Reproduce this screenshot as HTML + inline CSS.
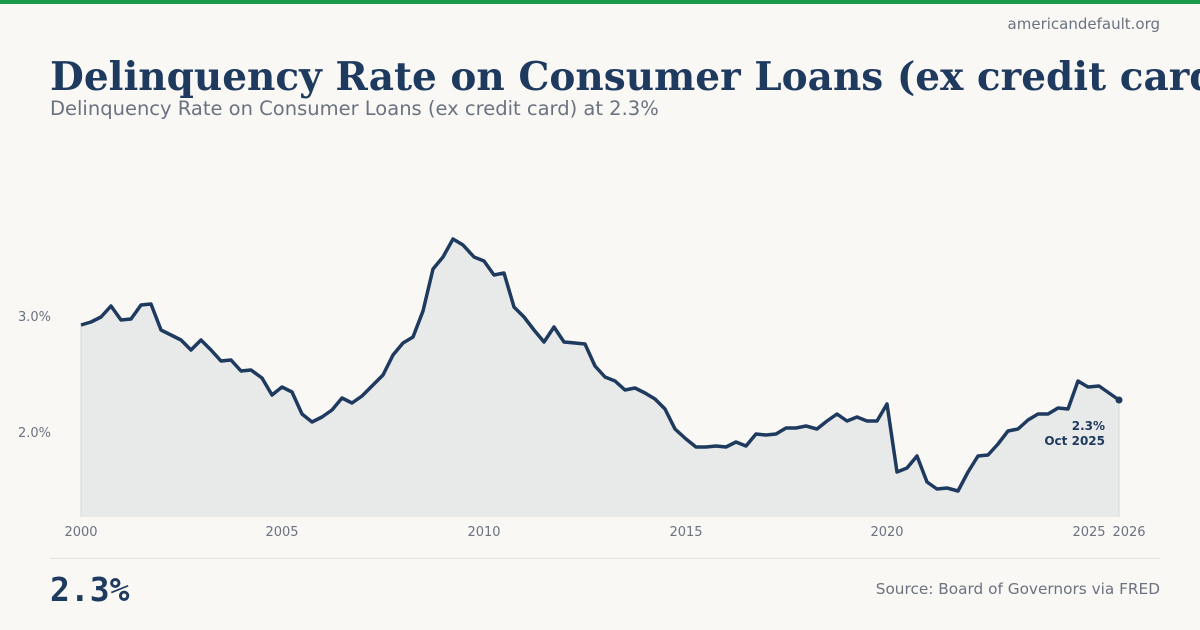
<!DOCTYPE html>
<html><head><meta charset="utf-8"><style>
html,body{margin:0;width:1200px;height:630px;overflow:hidden}
body{background:#f9f8f5;position:relative;font-family:"DejaVu Sans","Liberation Sans",sans-serif}
.bar{position:absolute;left:0;top:0;width:1200px;height:4px;background:#1a9a4a}
.site{position:absolute;right:40px;top:15px;font-size:15px;color:#6b7280}
.tw{position:absolute;left:50px;top:54px;width:1150px;height:50px;overflow:hidden}
.title{font-family:"DejaVu Serif","Liberation Serif",serif;font-weight:bold;font-size:39px;color:#1e3a5f;white-space:nowrap}
.sub{position:absolute;left:50px;top:97px;font-size:19.5px;color:#6b7280;white-space:nowrap}
.foot{position:absolute;left:50px;top:558px;width:1110px;border-top:1px solid #e2e2e2}
.big{position:absolute;left:50px;top:570px;font-family:"DejaVu Sans Mono","Liberation Mono",monospace;font-weight:bold;font-size:33px;color:#1e3a5f}
.src{position:absolute;right:40px;top:580px;font-size:15.3px;color:#6b7280}
svg{position:absolute;left:0;top:0}
</style></head><body>
<div class="bar"></div>
<div class="site">americandefault.org</div>
<div class="tw"><div class="title">Delinquency Rate on Consumer Loans (ex credit card) at 2.3%</div></div>
<div class="sub">Delinquency Rate on Consumer Loans (ex credit card) at 2.3%</div>
<svg width="1200" height="630" font-family="DejaVu Sans, sans-serif">
<polygon fill="#e8e9e9" points="81,517 81,325 91,322 101,317 111,306 121,320 131,319 141,305 151,304 161,330 171,335 181,340 191,350 201,340 211,350 221,361 231,360 241,371 251,370 262,378 272,395 282,387 292,392 302,414 312,422 322,417 332,410 342,398 352,403 362,396 372,386 383,375 393,355 403,343 413,337 423,311 433,269 443,257 453,239 463,245 474,257 484,261 494,275 504,273 514,307 524,317 534,330 544,342 554,327 564,342 575,343 585,344 595,366 605,377 615,381 625,390 635,388 645,393 655,399 665,409 675,429 686,439 696,447 706,447 716,446 726,447 736,442 746,446 756,434 766,435 776,434 786,428 796,428 806,426 817,429 827,421 837,414 847,421 857,417 867,421 877,421 887,404 897,472 907,468 917,456 927,482 937,489 947,488 958,491 968,472 978,456 988,455 998,444 1008,431 1018,429 1028,420 1038,414 1048,414 1058,408 1068,409 1078,381 1088,387 1099,386 1109,393 1119,400 1119,517"/>
<line x1="81" y1="325" x2="81" y2="517" stroke="#d6d6d6"/>
<line x1="1119" y1="400" x2="1119" y2="517" stroke="#d6d6d6"/>
<polyline fill="none" stroke="#1e3a5f" stroke-width="3.5" stroke-linejoin="round" points="81,325 91,322 101,317 111,306 121,320 131,319 141,305 151,304 161,330 171,335 181,340 191,350 201,340 211,350 221,361 231,360 241,371 251,370 262,378 272,395 282,387 292,392 302,414 312,422 322,417 332,410 342,398 352,403 362,396 372,386 383,375 393,355 403,343 413,337 423,311 433,269 443,257 453,239 463,245 474,257 484,261 494,275 504,273 514,307 524,317 534,330 544,342 554,327 564,342 575,343 585,344 595,366 605,377 615,381 625,390 635,388 645,393 655,399 665,409 675,429 686,439 696,447 706,447 716,446 726,447 736,442 746,446 756,434 766,435 776,434 786,428 796,428 806,426 817,429 827,421 837,414 847,421 857,417 867,421 877,421 887,404 897,472 907,468 917,456 927,482 937,489 947,488 958,491 968,472 978,456 988,455 998,444 1008,431 1018,429 1028,420 1038,414 1048,414 1058,408 1068,409 1078,381 1088,387 1099,386 1109,393 1119,400"/>
<circle cx="1119" cy="400" r="3.5" fill="#1e3a5f"/>
<text x="1105" y="430" text-anchor="end" font-size="12" font-weight="bold" fill="#1e3a5f">2.3%</text>
<text x="1105" y="445" text-anchor="end" font-size="12" font-weight="bold" fill="#1e3a5f">Oct 2025</text>
<g font-size="13" fill="#6b7280">
<text x="51" y="321" text-anchor="end">3.0%</text>
<text x="51" y="437" text-anchor="end">2.0%</text>
<text x="81" y="536" text-anchor="middle">2000</text>
<text x="282" y="536" text-anchor="middle">2005</text>
<text x="484" y="536" text-anchor="middle">2010</text>
<text x="686" y="536" text-anchor="middle">2015</text>
<text x="887" y="536" text-anchor="middle">2020</text>
<text x="1089" y="536" text-anchor="middle">2025</text>
<text x="1129" y="536" text-anchor="middle">2026</text>
</g>
</svg>
<div class="foot"></div>
<div class="big">2.3%</div>
<div class="src">Source: Board of Governors via FRED</div>
</body></html>
